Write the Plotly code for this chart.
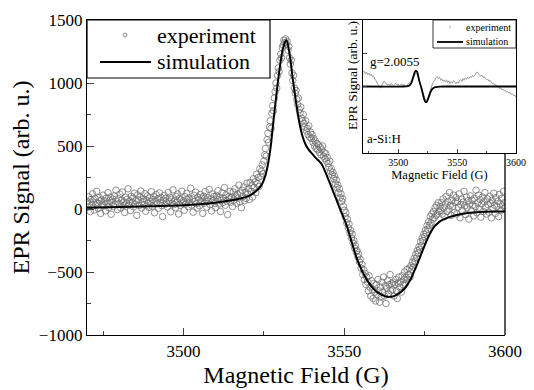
import numpy as np
import plotly.graph_objects as go

# ---------------- main panel data ----------------
field_start, field_end = 3470, 3600
exp_signal = [
    62, 15, 98, 41, -20, 77, 33, 120, 55, -8, 84, 29, 140, 47, 5, 91, 63, -35, 72, 38,
    110, 24, 58, -15, 86, 45, 130, 12, 67, 95, -42, 53, 78, 20, 105, 36, 150, 61, -5, 82,
    44, 118, 9, 70, 135, 26, 57, -28, 93, 48, 76, 160, 31, 64, -12, 101, 52, 87, 17, 125,
    39, 66, -50, 112, 73, 28, 95, 143, 8, 59, 81, 35, 122, -18, 69, 104, 46, 13, 88, 57,
    137, 22, 74, 99, -30, 61, 115, 43, 80, 6, 128, 54, 92, 27, -60, 71, 108, 37, 85, 49,
    16, 131, 63, 94, -22, 78, 45, 152, 34, 67, 10, 100, 56, 119, -40, 83, 29, 72, 141, 48,
    65, -10, 97, 40, 124, 75, 18, 88, 53, 165, 31, 79, -25, 109, 60, 134, 42, 7, 93, 70,
    26, 115, 58, 86, -35, 102, 47, 138, 73, 14, 90, 62, 155, 35, 81, -15, 120, 66, 99, 44,
    12, 107, 76, 145, 39, 94, -20, 68, 128, 51, 86, 170, 30, 113, 62, -45, 97, 80, 140, 55,
    92, 20, 135, 71, 160, 104, 45, 118, 87, 190, 58, 126, 10, 149, 98, 175, 66, 132, 84, 205,
    120, 160, 75, 210, 140, 185, 95, 240, 170, 215, 130, 275, 200, 250, 180, 320, 260, 300, 350, 280,
    380, 430, 480, 420, 550, 600, 530, 650, 700, 640, 760, 820, 780, 880, 930, 1000, 960, 1060, 1120, 1090,
    1180, 1230, 1200, 1280, 1300, 1340, 1320, 1350, 1310, 1330, 1260, 1290, 1200, 1150, 1180, 1080, 1020, 1060, 960, 920,
    940, 870, 830, 880, 790, 760, 810, 720, 700, 750, 680, 650, 700, 620, 640, 590, 660, 570, 610, 560,
    590, 530, 560, 500, 540, 480, 520, 470, 510, 450, 490, 430, 470, 500, 420, 450, 400, 440, 380, 410,
    360, 330, 380, 300, 320, 270, 290, 240, 260, 200, 230, 170, 190, 130, 160, 90, 120, 60, 80, 20,
    -10, -60, -30, -110, -80, -150, -120, -190, -170, -230, -200, -270, -250, -310, -290, -340, -330, -380, -360, -420,
    -400, -470, -440, -520, -480, -560, -510, -600, -540, -580, -650, -530, -620, -690, -570, -640, -710, -590, -660, -730,
    -600, -680, -560, -650, -740, -620, -700, -580, -660, -540, -690, -610, -750, -630, -570, -670, -600, -520, -650, -590,
    -640, -580, -690, -600, -560, -650, -710, -590, -540, -620, -580, -660, -530, -600, -560, -500, -590, -540, -480, -560,
    -520, -470, -540, -450, -480, -420, -460, -390, -420, -360, -390, -330, -350, -300, -320, -260, -290, -230, -250, -200,
    -220, -170, -190, -130, -160, -100, -130, -60, -110, -40, -80, -20, -70, 10, -50, 30, -40, 50, -20, 20,
    -10, 50, -40, 80, 10, -60, 40, 100, -20, 60, 0, 130, 30, -50, 70, 20, 110, -30, 50, 90,
    -40, 60, 15, 120, -70, 35, 80, -10, 55, 140, 25, -45, 95, 10, 65, -80, 40, 105, -15, 70,
    30, -55, 85, 20, 150, -30, 50, 110, 0, 75, -65, 40, 95, -20, 60, 130, 15, -40, 80, 35,
    -25, 100, 45, -70, 70, 5, 125, 30, -35, 90, 20, 60, -60, 115, 40, -10, 85, 25, 140, 50,
    10,
]
exp_field = np.linspace(field_start, field_end, len(exp_signal))

sim_field = [3470, 3480, 3490, 3500, 3505, 3510, 3514, 3517, 3520, 3522, 3524, 3525, 3526,
             3527, 3528, 3529, 3530, 3531, 3532, 3533, 3534, 3535, 3536, 3537, 3538, 3539,
             3540, 3541, 3542, 3543, 3544, 3545, 3546, 3547, 3548, 3549, 3550, 3551, 3552,
             3553, 3554, 3555, 3556, 3557, 3558, 3559, 3560, 3561, 3562, 3563, 3564, 3565,
             3566, 3567, 3568, 3569, 3570, 3571, 3572, 3573, 3574, 3575, 3576, 3577, 3578,
             3579, 3580, 3582, 3585, 3589, 3594, 3600]
sim_signal = [10, 15, 22, 30, 38, 50, 65, 80, 100, 130, 180, 230, 320,
              470, 700, 930, 1130, 1280, 1340, 1230, 1030, 850, 690, 580, 510, 470,
              440, 410, 385, 355, 300, 240, 175, 110, 45, -20, -80, -150, -235,
              -320, -400, -460, -515, -560, -600, -630, -655, -670, -685, -695, -698, -695,
              -685, -670, -650, -625, -585, -540, -480, -420, -355, -290, -230, -180, -140,
              -115, -95, -70, -48, -30, -21, -20]

x_ticks = [3500, 3550, 3600]
y_ticks = [-1000, -500, 0, 500, 1000, 1500]
legend_labels = ["experiment", "simulation"]

# ---------------- inset data ----------------
inset_exp_signal = [
    0.42, 0.46, 0.38, 0.44, 0.35, 0.40, 0.33, 0.37, 0.29, 0.31,
    0.22, 0.18, 0.10, 0.05, -0.03, -0.05, 0.04, 0.12, 0.16, 0.10,
    0.08, 0.03, 0.07, 0.02, 0.09, 0.05, 0.01, 0.06, 0.10, 0.04,
    0.07, 0.02, 0.05, 0.08, 0.03, 0.06, 0.00, 0.04, 0.07, 0.09,
    0.12, 0.18, 0.22, 0.30, 0.36, 0.40, 0.37, 0.28, 0.16, 0.04,
    -0.08, -0.20, -0.32, -0.40, -0.42, -0.36, -0.24, -0.12, -0.02, 0.08,
    0.15, 0.22, 0.26, 0.30, 0.24, 0.28, 0.20, 0.23, 0.16, 0.19,
    0.14, 0.20, 0.12, 0.17, 0.09, 0.15, 0.11, 0.18, 0.13, 0.08,
    0.14, 0.10, 0.17, 0.21, 0.15, 0.24, 0.19, 0.26, 0.22, 0.28,
    0.24, 0.30, 0.27, 0.33, 0.29, 0.36, 0.40, 0.44, 0.38, 0.35,
    0.31, 0.34, 0.27, 0.30, 0.24, 0.20, 0.22, 0.16, 0.18, 0.12,
    0.08, 0.10, 0.03, 0.05, -0.02, 0.01, -0.06, -0.04, -0.10, -0.08,
    -0.13, -0.11, -0.17, -0.15, -0.20, -0.18, -0.24, -0.22, -0.28, -0.26,
    -0.32,
]
inset_exp_field = np.linspace(field_start, field_end, len(inset_exp_signal))

inset_sim_field = [3470, 3505, 3508, 3510, 3511, 3512, 3513, 3514, 3515, 3516, 3517, 3518,
                   3519, 3520, 3521, 3522, 3523, 3524, 3525, 3526, 3527, 3528, 3529, 3530,
                   3532, 3535, 3540, 3600]
inset_sim_signal = [0, 0, 0.01, 0.05, 0.1, 0.2, 0.32, 0.43, 0.48, 0.44, 0.3, 0.15,
                    0.03, -0.1, -0.25, -0.38, -0.46, -0.47, -0.4, -0.3, -0.2, -0.12, -0.07, -0.04,
                    -0.02, -0.005, 0, 0]

FONT = "Times New Roman, Liberation Serif, DejaVu Serif, serif"
EXP_COLOR = "#6e6e6e"

# page body has an 8px margin: figure is placed at (8, 8)
OFF = 8
W, H = 534 - OFF, 390 - OFF
L, T = 87 - OFF, 20 - OFF
R = W - (516 - OFF)
B = H - (335 - OFF)
PW = W - L - R
PH = H - T - B


def px(xp):   # page pixel -> paper x
    return (xp - 87) / PW


def py(yp):   # page pixel -> paper y
    return (335 - yp) / PH


fig = go.Figure()

fig.add_trace(go.Scatter(
    x=exp_field, y=exp_signal, mode="markers", showlegend=False,
    marker=dict(symbol="circle-open", size=6.5, color=EXP_COLOR, line=dict(width=0.75)),
    xaxis="x", yaxis="y",
))
fig.add_trace(go.Scatter(
    x=sim_field, y=sim_signal, mode="lines", showlegend=False, line_shape="spline",
    line=dict(color="black", width=2), xaxis="x", yaxis="y",
))

# inset
fig.add_trace(go.Scatter(
    x=inset_exp_field, y=inset_exp_signal, mode="lines", showlegend=False,
    line=dict(color="#9a9a9a", width=1), xaxis="x2", yaxis="y2",
))
fig.add_trace(go.Scatter(
    x=inset_sim_field, y=inset_sim_signal, mode="lines", showlegend=False, line_shape="spline",
    line=dict(color="black", width=1.8), xaxis="x2", yaxis="y2",
))

main_end = px(505)
inset_start = px(363)
inset_bottom = py(153)

shapes = [
    # main right frame (below the inset)
    dict(type="line", xref="x domain", yref="y domain", x0=1, x1=1, y0=0, y1=inset_bottom,
         line=dict(color="black", width=1.3)),
    # main legend
    dict(type="rect", xref="paper", yref="paper", x0=px(87), x1=px(270), y0=py(78), y1=py(20),
         fillcolor="white", line=dict(color="black", width=1.2), layer="above"),
    dict(type="circle", xref="paper", yref="paper", x0=px(123), x1=px(127), y0=py(37), y1=py(33),
         line=dict(color=EXP_COLOR, width=0.8), layer="above"),
    dict(type="line", xref="paper", yref="paper", x0=px(100), x1=px(151), y0=py(62), y1=py(62),
         line=dict(color="black", width=2), layer="above"),
    # inset legend
    dict(type="rect", xref="paper", yref="paper", x0=px(433), x1=px(516), y0=py(48), y1=py(20),
         fillcolor="white", line=dict(color="black", width=0.8), layer="above"),
    dict(type="line", xref="paper", yref="paper", x0=px(450), x1=px(450), y0=py(28.5), y1=py(25.5),
         line=dict(color="#9a9a9a", width=0.8), layer="above"),
    dict(type="line", xref="paper", yref="paper", x0=px(437), x1=px(463), y0=py(42), y1=py(42),
         line=dict(color="black", width=1.8), layer="above"),
]

annotations = [
    dict(text=legend_labels[0], x=px(155), y=py(35), xref="paper", yref="paper",
         xanchor="left", yanchor="middle", showarrow=False, font=dict(size=22, family=FONT)),
    dict(text=legend_labels[1], x=px(155), y=py(62), xref="paper", yref="paper",
         xanchor="left", yanchor="middle", showarrow=False, font=dict(size=22, family=FONT)),
    dict(text=legend_labels[0], x=px(464), y=py(27), xref="paper", yref="paper",
         xanchor="left", yanchor="middle", showarrow=False, font=dict(size=10, family=FONT)),
    dict(text=legend_labels[1], x=px(464), y=py(42), xref="paper", yref="paper",
         xanchor="left", yanchor="middle", showarrow=False, font=dict(size=10, family=FONT)),
    dict(text="g=2.0055", x=3497, y=0.76, xref="x2", yref="y2",
         showarrow=False, font=dict(size=13, family=FONT)),
    dict(text="a-Si:H", x=0.01, y=-1.55, xref="x2 domain", yref="y2",
         xanchor="left", showarrow=False, font=dict(size=13, family=FONT)),
    dict(text="EPR Signal (arb. u.)", x=px(352), y=py(76), xref="paper", yref="paper",
         textangle=-90, xanchor="center", yanchor="middle", showarrow=False,
         font=dict(size=13.5, family=FONT)),
]

fig.update_layout(
    width=W, height=H,
    margin=dict(l=L, r=R, t=T, b=B),
    paper_bgcolor="white", plot_bgcolor="white",
    font=dict(family=FONT, color="black"),
    showlegend=False,
    xaxis=dict(
        domain=[0, main_end], range=[field_start, field_end],
        tickvals=x_ticks, ticks="inside", ticklen=7, tickwidth=1.2,
        minor=dict(dtick=25, tick0=3475, ticks="inside", ticklen=4, tickwidth=1.2),
        showline=True, linecolor="black", linewidth=1.3, mirror=True,
        showgrid=False, zeroline=False,
        tickfont=dict(size=17, family=FONT),
        title=dict(text="Magnetic Field (G)", font=dict(size=24, family=FONT), standoff=6),
        automargin=False,
    ),
    yaxis=dict(
        domain=[0, 1], range=[-1000, 1500],
        tickvals=y_ticks, ticks="inside", ticklen=7, tickwidth=1.2,
        minor=dict(dtick=250, ticks="inside", ticklen=4, tickwidth=1.2),
        showline=True, linecolor="black", linewidth=1.3, mirror=False,
        showgrid=False, zeroline=False,
        tickfont=dict(size=17, family=FONT),
        title=dict(text="EPR Signal (arb. u.)", font=dict(size=24, family=FONT), standoff=8),
        automargin=False,
    ),
    xaxis2=dict(
        domain=[inset_start, 1], anchor="y2", range=[field_start, field_end],
        tickvals=x_ticks, ticks="inside", ticklen=4, tickwidth=1,
        minor=dict(dtick=25, tick0=3475, ticks="inside", ticklen=2),
        showline=True, linecolor="black", linewidth=1, mirror=True,
        showgrid=False, zeroline=False,
        tickfont=dict(size=10, family=FONT),
        title=dict(text="Magnetic Field (G)", font=dict(size=12.5, family=FONT), standoff=0),
        automargin=False,
    ),
    yaxis2=dict(
        domain=[inset_bottom, 1], anchor="x2", range=[-2, 2],
        tickvals=[-1, 0, 1], ticks="inside", ticklen=4, tickwidth=1,
        showticklabels=False,
        showline=True, linecolor="black", linewidth=1, mirror=True,
        showgrid=False, zeroline=False,
        automargin=False,
    ),
    shapes=shapes,
    annotations=annotations,
)

fig.write_html("out.html")
